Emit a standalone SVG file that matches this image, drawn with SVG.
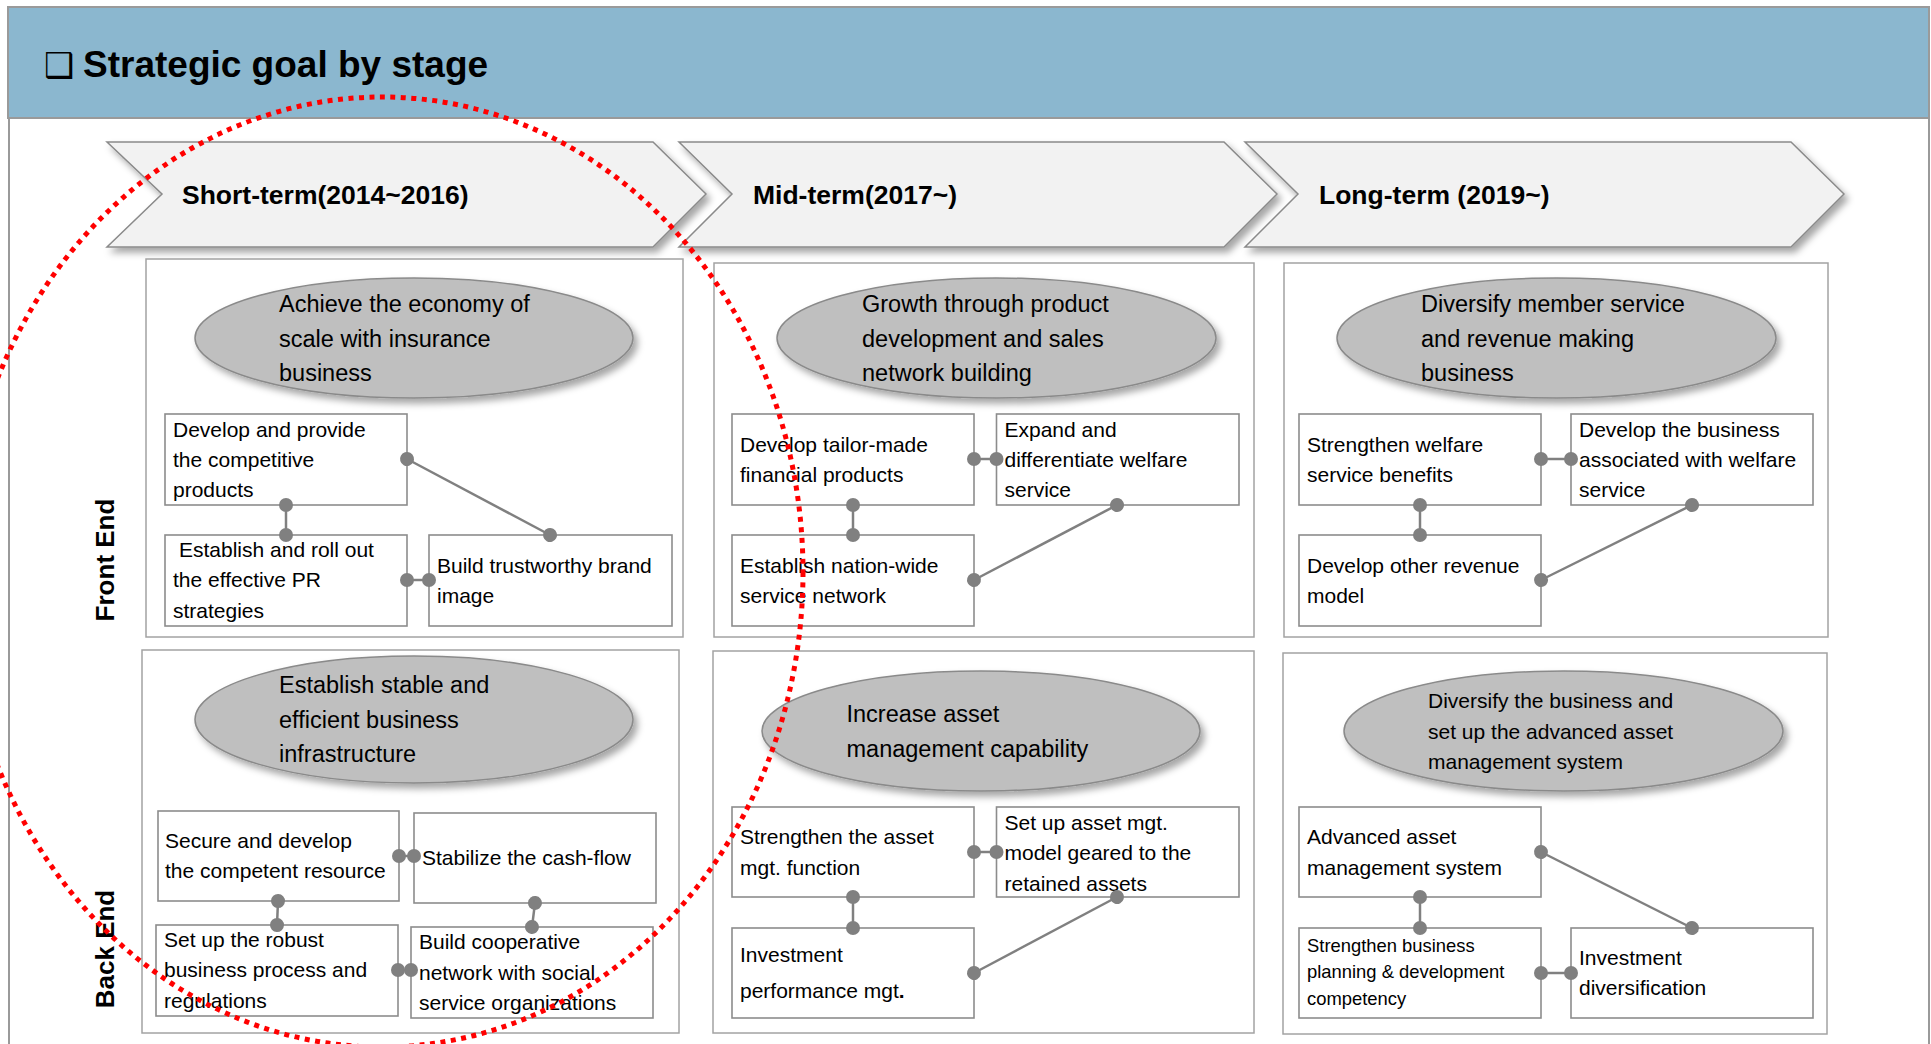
<svg xmlns="http://www.w3.org/2000/svg" width="1931" height="1044" viewBox="0 0 1931 1044">
  <defs>
    <filter id="shadow" x="-10%" y="-20%" width="130%" height="150%">
      <feDropShadow dx="4" dy="5" stdDeviation="3.5" flood-color="#000" flood-opacity="0.35"/>
    </filter>
    <marker id="knob" markerUnits="userSpaceOnUse" markerWidth="16" markerHeight="16" refX="8" refY="8" orient="auto">
      <circle cx="8" cy="8" r="7" fill="#808080"/>
    </marker>
    <style>
      .frame { fill: none; stroke: #9a9a9a; stroke-width: 2; }
      .panel { fill: #fff; stroke: #a3a3a3; stroke-width: 1.5; }
      .box { fill: #fff; stroke: #8c8c8c; stroke-width: 1.6; }
      .goal { fill: #bfbfbf; stroke: #8a8a8a; stroke-width: 1.5; filter: url(#shadow); }
      .stage { fill: #f2f2f2; stroke: #8a8a8a; stroke-width: 1.5; filter: url(#shadow); }
      .link { stroke: #808080; stroke-width: 2.5; fill: none; marker-start: url(#knob); marker-end: url(#knob); }
      text { font-family: "Liberation Sans", Arial, sans-serif; fill: #000; }
      .t { font-size: 21px; }
      .g { font-size: 23.5px; }
      .gs { font-size: 21px; }
      .s { font-size: 18.4px; }
      .h { font-size: 26.5px; font-weight: bold; }
      .side { font-size: 26px; font-weight: bold; text-anchor: middle; }
      .title { font-size: 37px; font-weight: bold; }
      .focus { fill: none; stroke: #ff0000; stroke-width: 5; stroke-dasharray: 5 5.5; }
    </style>
  </defs>

  <rect width="1931" height="1044" fill="#fff"/>

  <!-- header band and page frame -->
  <g id="header">
    <rect x="8" y="7" width="1921" height="111" fill="#8bb7cf" stroke="#9a9a9a" stroke-width="2"/>
    <line class="frame" x1="9" y1="118" x2="9" y2="1044"/>
    <line class="frame" x1="1929" y1="118" x2="1929" y2="1044"/>
    <text class="title" x="44" y="77"><tspan font-family="DejaVu Sans, sans-serif" font-weight="normal" font-size="34">❑</tspan></text>
    <text class="title" x="83" y="77">Strategic goal by stage</text>
  </g>

  <!-- stage chevrons -->
  <g id="stage-short">
    <polygon class="stage" points="107,142 653,142 706,194 653,247 107,247 162,194"/>
    <text class="h" x="182" y="204">Short-term(2014~2016)</text>
  </g>
  <g id="stage-mid">
    <polygon class="stage" points="679,142 1224,142 1277,194 1224,247 679,247 732,194"/>
    <text class="h" x="753" y="204">Mid-term(2017~)</text>
  </g>
  <g id="stage-long">
    <polygon class="stage" points="1245,142 1791,142 1844,194 1791,247 1245,247 1298,194"/>
    <text class="h" x="1319" y="204">Long-term (2019~)</text>
  </g>

  <!-- row labels -->
  <g id="label-front"><text class="side" transform="translate(114,560) rotate(-90)">Front End</text></g>
  <g id="label-back"><text class="side" transform="translate(114,949) rotate(-90)">Back End</text></g>

  <!-- panels -->
  <g id="panels">
    <rect class="panel" x="146" y="259" width="537" height="378"/>
    <rect class="panel" x="714" y="263" width="540" height="374"/>
    <rect class="panel" x="1284" y="263" width="544" height="374"/>
    <rect class="panel" x="142" y="650" width="537" height="383"/>
    <rect class="panel" x="713" y="651" width="541" height="382"/>
    <rect class="panel" x="1283" y="653" width="544" height="381"/>
  </g>

  <!-- goals -->
  <g id="goal-short-front">
    <ellipse class="goal" cx="414" cy="338" rx="219" ry="60"/>
    <text class="g" x="279" y="312">Achieve the economy of</text>
    <text class="g" x="279" y="347">scale with insurance</text>
    <text class="g" x="279" y="381">business</text>
  </g>
  <g id="goal-mid-front">
    <ellipse class="goal" cx="996.5" cy="338" rx="219.5" ry="60"/>
    <text class="g" x="862" y="312">Growth through product</text>
    <text class="g" x="862" y="347">development and sales</text>
    <text class="g" x="862" y="381">network building</text>
  </g>
  <g id="goal-long-front">
    <ellipse class="goal" cx="1556.5" cy="338" rx="219.5" ry="60"/>
    <text class="g" x="1421" y="312">Diversify member service</text>
    <text class="g" x="1421" y="347">and revenue making</text>
    <text class="g" x="1421" y="381">business</text>
  </g>
  <g id="goal-short-back">
    <ellipse class="goal" cx="414" cy="719.5" rx="219" ry="63.5"/>
    <text class="g" x="279" y="693">Establish stable and</text>
    <text class="g" x="279" y="728">efficient business</text>
    <text class="g" x="279" y="762">infrastructure</text>
  </g>
  <g id="goal-mid-back">
    <ellipse class="goal" cx="981" cy="731" rx="219" ry="60"/>
    <text class="g" x="846.5" y="722">Increase asset</text>
    <text class="g" x="846.5" y="757">management capability</text>
  </g>
  <g id="goal-long-back">
    <ellipse class="goal" cx="1563.5" cy="731" rx="219.5" ry="60"/>
    <text class="gs" x="1428" y="708">Diversify the business and</text>
    <text class="gs" x="1428" y="739">set up the advanced asset</text>
    <text class="gs" x="1428" y="769">management system</text>
  </g>

  <!-- short-term, front end -->
  <g id="competitive-products">
    <rect class="box" x="165" y="414" width="242" height="91"/>
    <text class="t" x="173" y="437">Develop and provide</text>
    <text class="t" x="173" y="467">the competitive</text>
    <text class="t" x="173" y="497">products</text>
  </g>
  <g id="pr-strategies">
    <rect class="box" x="165" y="535" width="242" height="91"/>
    <text class="t" x="179" y="557">Establish and roll out</text>
    <text class="t" x="173" y="587">the effective PR</text>
    <text class="t" x="173" y="618">strategies</text>
  </g>
  <g id="brand-image">
    <rect class="box" x="429" y="535" width="243" height="91"/>
    <text class="t" x="437" y="573">Build trustworthy brand</text>
    <text class="t" x="437" y="603">image</text>
  </g>

  <!-- mid-term, front end -->
  <g id="tailor-made-products">
    <rect class="box" x="732" y="414" width="242" height="91"/>
    <text class="t" x="740" y="452">Develop tailor-made</text>
    <text class="t" x="740" y="482">financial products</text>
  </g>
  <g id="welfare-service">
    <rect class="box" x="996.5" y="414" width="242.5" height="91"/>
    <text class="t" x="1004.5" y="437">Expand and</text>
    <text class="t" x="1004.5" y="467">differentiate welfare</text>
    <text class="t" x="1004.5" y="497">service</text>
  </g>
  <g id="service-network">
    <rect class="box" x="732" y="535" width="242" height="91"/>
    <text class="t" x="740" y="573">Establish nation-wide</text>
    <text class="t" x="740" y="603">service network</text>
  </g>

  <!-- long-term, front end -->
  <g id="welfare-benefits">
    <rect class="box" x="1299" y="414" width="242" height="91"/>
    <text class="t" x="1307" y="452">Strengthen welfare</text>
    <text class="t" x="1307" y="482">service benefits</text>
  </g>
  <g id="welfare-business">
    <rect class="box" x="1571" y="414" width="242" height="91"/>
    <text class="t" x="1579" y="437">Develop the business</text>
    <text class="t" x="1579" y="467">associated with welfare</text>
    <text class="t" x="1579" y="497">service</text>
  </g>
  <g id="revenue-model">
    <rect class="box" x="1299" y="535" width="242" height="91"/>
    <text class="t" x="1307" y="573">Develop other revenue</text>
    <text class="t" x="1307" y="603">model</text>
  </g>

  <!-- short-term, back end -->
  <g id="competent-resource">
    <rect class="box" x="158" y="811" width="241" height="90"/>
    <text class="t" x="165" y="848">Secure and develop</text>
    <text class="t" x="165" y="878">the competent resource</text>
  </g>
  <g id="cash-flow">
    <rect class="box" x="414" y="813" width="242" height="90"/>
    <text class="t" x="422" y="865">Stabilize the cash-flow</text>
  </g>
  <g id="business-process">
    <rect class="box" x="156" y="925" width="242" height="91"/>
    <text class="t" x="164" y="947">Set up the robust</text>
    <text class="t" x="164" y="977">business process and</text>
    <text class="t" x="164" y="1008">regulations</text>
  </g>
  <g id="cooperative-network">
    <rect class="box" x="411" y="927" width="242" height="91"/>
    <text class="t" x="419" y="949">Build cooperative</text>
    <text class="t" x="419" y="980">network with social</text>
    <text class="t" x="419" y="1010">service organizations</text>
  </g>

  <!-- mid-term, back end -->
  <g id="asset-function">
    <rect class="box" x="732" y="807" width="242" height="90"/>
    <text class="t" x="740" y="844">Strengthen the asset</text>
    <text class="t" x="740" y="875">mgt. function</text>
  </g>
  <g id="asset-model">
    <rect class="box" x="996.5" y="807" width="242.5" height="90"/>
    <text class="t" x="1004.5" y="830">Set up asset mgt.</text>
    <text class="t" x="1004.5" y="860">model geared to the</text>
    <text class="t" x="1004.5" y="891">retained assets</text>
  </g>
  <g id="investment-performance">
    <rect class="box" x="732" y="928" width="242" height="90"/>
    <text class="t" x="740" y="962">Investment</text>
    <text class="t" x="740" y="998">performance mgt<tspan font-weight="bold">.</tspan></text>
  </g>

  <!-- long-term, back end -->
  <g id="asset-system">
    <rect class="box" x="1299" y="807" width="242" height="90"/>
    <text class="t" x="1307" y="844">Advanced asset</text>
    <text class="t" x="1307" y="875">management system</text>
  </g>
  <g id="planning-competency">
    <rect class="box" x="1299" y="928" width="242" height="90"/>
    <text class="s" x="1307" y="952">Strengthen business</text>
    <text class="s" x="1307" y="978">planning &amp; development</text>
    <text class="s" x="1307" y="1005">competency</text>
  </g>
  <g id="investment-diversification">
    <rect class="box" x="1571" y="928" width="242" height="90"/>
    <text class="t" x="1579" y="965">Investment</text>
    <text class="t" x="1579" y="995">diversification</text>
  </g>

  <!-- connectors -->
  <g id="connectors">
    <line class="link" x1="407" y1="459" x2="550" y2="535"/>
    <line class="link" x1="286" y1="505" x2="286" y2="535"/>
    <line class="link" x1="407" y1="580" x2="429" y2="580"/>

    <line class="link" x1="974" y1="459" x2="996.5" y2="459"/>
    <line class="link" x1="853" y1="505" x2="853" y2="535"/>
    <line class="link" x1="974" y1="580" x2="1117" y2="505"/>

    <line class="link" x1="1541" y1="459" x2="1571" y2="459"/>
    <line class="link" x1="1420" y1="505" x2="1420" y2="535"/>
    <line class="link" x1="1541" y1="580" x2="1692" y2="505"/>

    <line class="link" x1="399" y1="856" x2="414" y2="856"/>
    <line class="link" x1="278" y1="901" x2="277" y2="925"/>
    <line class="link" x1="535" y1="903" x2="532" y2="927"/>
    <line class="link" x1="398" y1="970" x2="411" y2="970"/>

    <line class="link" x1="974" y1="852" x2="996.5" y2="852"/>
    <line class="link" x1="853" y1="897" x2="853" y2="928"/>
    <line class="link" x1="974" y1="973" x2="1117" y2="897"/>

    <line class="link" x1="1541" y1="852" x2="1692" y2="928"/>
    <line class="link" x1="1420" y1="897" x2="1420" y2="928"/>
    <line class="link" x1="1541" y1="973" x2="1571" y2="973"/>
  </g>

  <!-- highlighted short-term area -->
  <ellipse class="focus" cx="382" cy="572" rx="421" ry="475"/>
</svg>
